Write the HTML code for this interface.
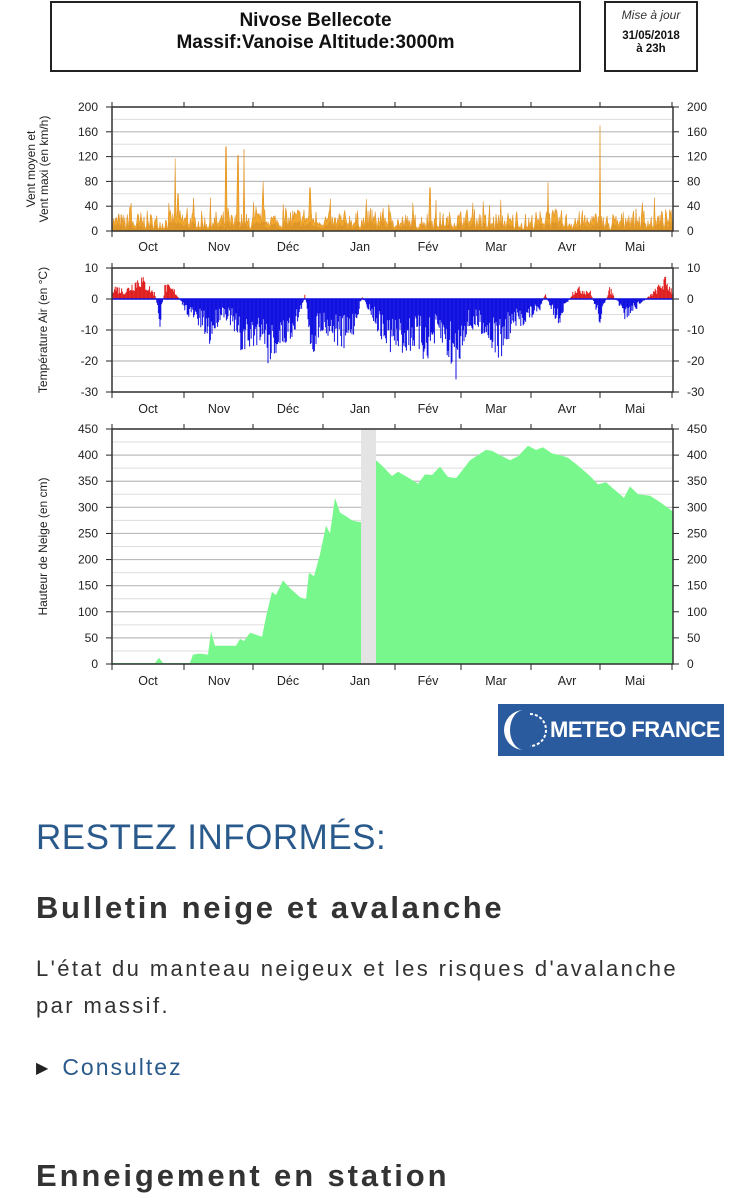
<!DOCTYPE html>
<html><head><meta charset="utf-8">
<style>
html,body{margin:0;padding:0;background:#fff;width:736px;height:1200px;overflow:hidden}
body{position:relative;font-family:"Liberation Sans",sans-serif}
.box{position:absolute;border:2px solid #222;box-sizing:border-box;text-align:center;color:#111}
.t{position:absolute;white-space:nowrap}
</style></head><body>
<div class="box" style="left:50px;top:1px;width:531px;height:71px;font-weight:bold;font-size:19px;line-height:22px;padding-top:7px">Nivose Bellecote<br>Massif:Vanoise Altitude:3000m</div>
<div class="box" style="left:604px;top:1px;width:94px;height:71px;font-size:12px;line-height:14px;padding-top:5px"><i style="color:#333">Mise à jour</i><br><b style="display:block;margin-top:8px;font-size:11.5px;line-height:13px">31/05/2018<br>à 23h</b></div>

<svg id="ch" width="736" height="700" style="position:absolute;left:0;top:0" font-family="Liberation Sans, sans-serif"></svg>

<div style="position:absolute;left:498px;top:704px;width:226px;height:52px;background:#2a5b9e">
<svg width="50" height="52" style="position:absolute;left:4px;top:0"><path d="M22 6 A20 20 0 1 0 22 46 A14 20 0 0 1 22 6Z" fill="#fff"/><path d="M28 10 A16 16 0 0 1 28 42" stroke="#fff" stroke-width="2" fill="none" stroke-dasharray="3 2"/></svg>
<div class="t" style="left:52px;top:13px;color:#fff;font-weight:bold;font-size:22px;letter-spacing:-0.5px">METEO FRANCE</div></div>

<div class="t" style="left:36px;top:818px;font-size:35px;color:#2a5a8c;letter-spacing:0.5px;font-weight:300">RESTEZ INFORMÉS:</div>
<div class="t" style="left:36px;top:890px;font-size:31px;color:#333;font-weight:bold;letter-spacing:2.6px">Bulletin neige et avalanche</div>
<div class="t" style="left:36px;top:950px;font-size:22px;color:#333;line-height:37px;letter-spacing:2.4px">L'état du manteau neigeux et les risques d'avalanche<br>par massif.</div>
<div class="t" style="left:36px;top:1054px;font-size:23px;color:#2a5a8c"><span style="color:#222;font-size:16px;position:relative;top:-2px">▶</span><span style="margin-left:14px;letter-spacing:2px">Consultez</span></div>
<div class="t" style="left:36px;top:1158px;font-size:31px;color:#333;font-weight:bold;letter-spacing:2.9px">Enneigement en station</div>

<script>
var s=document.getElementById('ch'),h='';
var L=112,R=673,months=['Oct','Nov','Déc','Jan','Fév','Mar','Avr','Mai'],mx=[148,219,288,360,428,496,567,635];
var tk=[112,184,253,323,395,461,531,600,672];
var seed=7;function rnd(){seed=(seed*16807)%2147483647;return seed/2147483647;}
function panel(top,bot,vals,labelY,ylab,ylab2){
 var n=vals.length-1;
 for(var i=0;i<=n;i++){var y=top+(bot-top)*i/n;
  h+='<line x1="'+L+'" x2="'+R+'" y1="'+y+'" y2="'+y+'" stroke="#bbb" stroke-width="1.2"/>';
  if(i<n){var y2=y+(bot-top)/n/2;h+='<line x1="'+L+'" x2="'+R+'" y1="'+y2+'" y2="'+y2+'" stroke="#ddd" stroke-width="1"/>';}
  h+='<text x="'+(L-14)+'" y="'+(y+4)+'" font-size="12" text-anchor="end" fill="#222">'+vals[i]+'</text>';
  h+='<text x="'+(R+14)+'" y="'+(y+4)+'" font-size="12" fill="#222">'+vals[i]+'</text>';
  h+='<line x1="'+(L-6)+'" x2="'+L+'" y1="'+y+'" y2="'+y+'" stroke="#222"/><line x1="'+R+'" x2="'+(R+6)+'" y1="'+y+'" y2="'+y+'" stroke="#222"/>';
 }
 for(var i=0;i<8;i++)h+='<text x="'+mx[i]+'" y="'+labelY+'" font-size="12.5" text-anchor="middle" fill="#222">'+months[i]+'</text>';
 for(var i=0;i<tk.length;i++){h+='<line x1="'+tk[i]+'" x2="'+tk[i]+'" y1="'+(bot)+'" y2="'+(bot+6)+'" stroke="#222"/><line x1="'+tk[i]+'" x2="'+tk[i]+'" y1="'+(top-5)+'" y2="'+top+'" stroke="#222"/>';}
 var cy=(top+bot)/2;
 if(ylab2){h+='<text transform="translate(35,'+cy+') rotate(-90)" font-size="12" text-anchor="middle" fill="#222">'+ylab+'</text><text transform="translate(48,'+cy+') rotate(-90)" font-size="12" text-anchor="middle" fill="#222">'+ylab2+'</text>';}
 else h+='<text transform="translate(47,'+cy+') rotate(-90)" font-size="12" text-anchor="middle" fill="#222">'+ylab+'</text>';
}
function frame(top,bot){h+='<rect x="'+L+'" y="'+top+'" width="'+(R-L)+'" height="'+(bot-top)+'" fill="none" stroke="#333" stroke-width="1.5"/>';}
function interp(pts,x){for(var i=0;i<pts.length-1;i++){if(x>=pts[i][0]&&x<=pts[i+1][0]){var t=(x-pts[i][0])/(pts[i+1][0]-pts[i][0]);return pts[i][1]+t*(pts[i+1][1]-pts[i][1]);}}return pts[pts.length-1][1];}

// WIND
panel(107,231,[200,160,120,80,40,0],251,'Vent moyen et','Vent maxi (en km/h)');
var sc=124/200,p='M'+L+' 231',p2='M'+L+' 231';
var spikes={175:117,226:136,238:122,244:132,263:80,600:170,178:60,130:38,310:70,430:70,548:78};
for(var x=L;x<=R;x+=0.8){var xi=Math.round(x);var base=9+7*Math.sin(x/9)*Math.sin(x/23)+ (x>290&&x<330?10:0);
 var r=rnd();var v=Math.max(1,base*0.6+r*r*28*(rnd()<0.12?1.8:1));if(spikes[xi]&&Math.abs(x-xi)<0.45)v=spikes[xi];
 p+=' L'+x.toFixed(1)+' '+(231-v*sc).toFixed(1);p2+=' L'+x.toFixed(1)+' '+(231-Math.min(v,30)*0.5*sc).toFixed(1);}
h+='<path d="'+p+' L'+R+' 231Z" fill="#f0a830" stroke="#e09020" stroke-width="0.5"/>';
h+='<path d="'+p2+' L'+R+' 231Z" fill="#c8801e" opacity="0.45"/>';
frame(107,231);

// TEMP
panel(268,392,[10,0,-10,-20,-30],413,'Température Air (en °C)');
var z=299,k=3.1;
var env=[[112,5],[125,3],[140,8],[155,2],[160,-10],[165,5],[175,3],[185,-4],[200,-10],[210,-15],[222,-5],[230,-8],[240,-18],[252,-17],[262,-12],[268,-20],[280,-18],[290,-14],[300,-6],[305,2],[312,-20],[320,-10],[335,-14],[345,-17],[355,-10],[362,1],[372,-6],[385,-16],[400,-18],[415,-16],[425,-20],[440,-14],[456,-26],[465,-12],[480,-10],[490,-15],[500,-20],[510,-12],[525,-8],[540,-4],[545,2],[558,-9],[565,-3],[575,4],[590,3],[600,-8],[610,4],[625,-7],[640,-2],[655,3],[665,7],[673,3]];
var pr='',pb='';
for(var x=L;x<=R;x+=0.8){var v=interp(env,x);var r=rnd();v=v<0?v*(0.3+0.75*r):v*(0.4+0.7*r);
 var y=(z-v*k).toFixed(1);
 if(v>0)pr+='<line x1="'+x.toFixed(1)+'" x2="'+x.toFixed(1)+'" y1="'+z+'" y2="'+y+'" stroke="#e02020" stroke-width="1"/>';
 else pb+='<line x1="'+x.toFixed(1)+'" x2="'+x.toFixed(1)+'" y1="'+z+'" y2="'+y+'" stroke="#1010e0" stroke-width="1"/>';}
h+=pr+pb+'<line x1="'+L+'" x2="'+R+'" y1="'+z+'" y2="'+z+'" stroke="#1010e0" stroke-width="1.5"/>';
frame(268,392);

// SNOW
panel(429,664,[450,400,350,300,250,200,150,100,50,0],685,'Hauteur de Neige (en cm)');
var ks=235/450;
var sn=[[112,2],[155,2],[159,12],[163,2],[190,2],[193,18],[200,20],[208,18],[211,62],[215,35],[236,35],[240,48],[244,44],[250,60],[262,52],[266,90],[272,138],[276,132],[283,160],[290,145],[300,128],[306,124],[309,175],[314,168],[320,210],[326,265],[330,250],[335,318],[340,290],[346,283],[352,275],[359,272],[361,272]];
var sn2=[[376,390],[382,380],[392,360],[398,368],[410,355],[418,345],[425,363],[432,362],[440,378],[448,358],[456,356],[462,370],[470,390],[478,400],[486,410],[492,408],[500,400],[510,390],[518,398],[528,418],[536,410],[543,415],[552,403],[560,400],[568,395],[578,380],[590,360],[598,344],[606,348],[615,333],[624,318],[630,340],[638,325],[650,322],[660,310],[673,292]];
function area(pts){var d='M'+pts[0][0]+' 664';pts.forEach(function(q){d+=' L'+q[0]+' '+(664-q[1]*ks).toFixed(1);});d+=' L'+pts[pts.length-1][0]+' 664Z';return d;}
h+='<path d="'+area(sn)+'" fill="#78f78c"/><path d="'+area(sn2)+'" fill="#78f78c"/>';
h+='<rect x="361" y="429" width="15" height="235" fill="#e4e4e4"/>';
frame(429,664);
s.innerHTML=h;
</script>
</body></html>
